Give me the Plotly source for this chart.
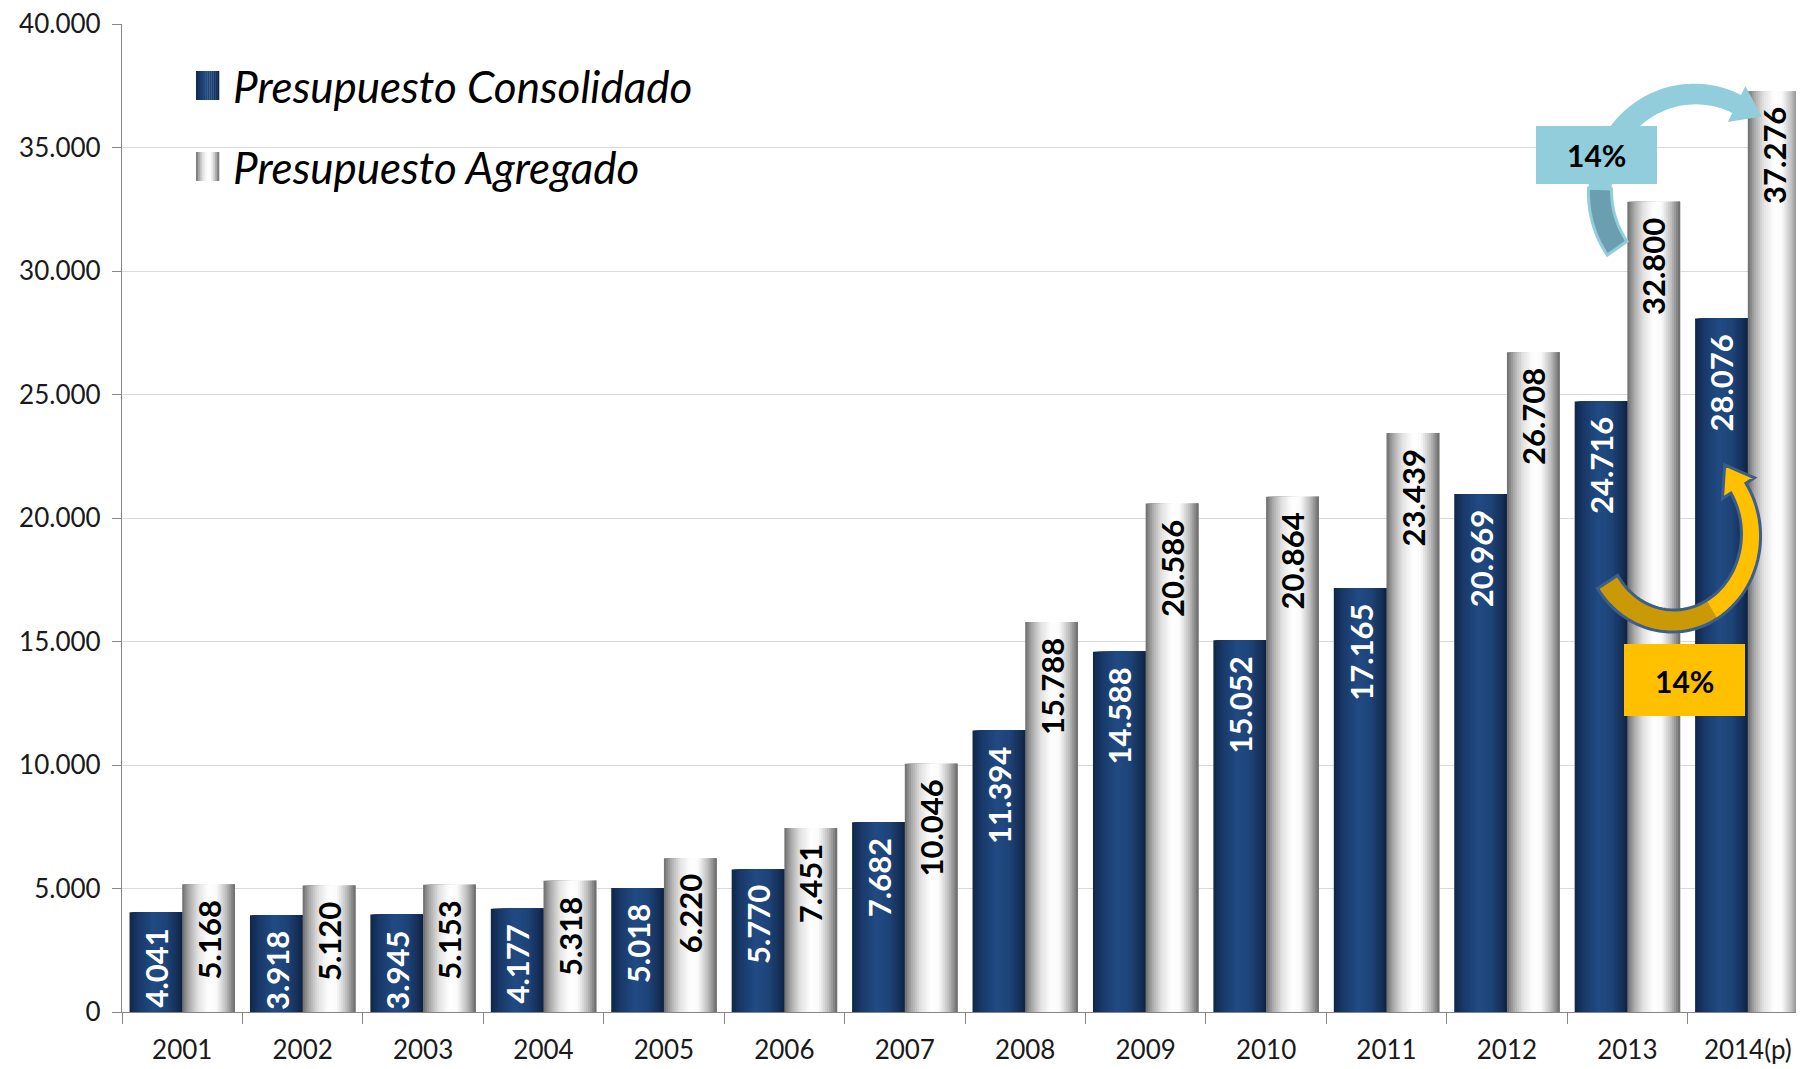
import math
import plotly.graph_objects as go

# ---------------- data ----------------
categories = ["2001", "2002", "2003", "2004", "2005", "2006", "2007",
              "2008", "2009", "2010", "2011", "2012", "2013", "2014(p)"]
consolidado = [4041, 3918, 3945, 4177, 5018, 5770, 7682,
               11394, 14588, 15052, 17165, 20969, 24716, 28076]
agregado = [5168, 5120, 5153, 5318, 6220, 7451, 10046,
            15788, 20586, 20864, 23439, 26708, 32800, 37276]
series_names = ["Presupuesto Consolidado", "Presupuesto Agregado"]
growth_labels = ["14%", "14%"]
y_ticks = [0, 5000, 10000, 15000, 20000, 25000, 30000, 35000, 40000]

# ---------------- layout constants ----------------
W, H = 1804, 1069
OFF = 8                      # page body margin
PLOT_L, PLOT_T, PW, PH = 122, 24, 1686, 988
ML, MT = PLOT_L - OFF, PLOT_T - OFF
MR, MB = W - ML - PW, H - MT - PH
FONT = "Lato"
BAR_W = 0.4375

BLUE_STOPS = [(0.0, (0x10, 0x26, 0x47)), (0.15, (0x18, 0x37, 0x66)),
              (0.45, (0x21, 0x4b, 0x83)), (0.7, (0x1d, 0x44, 0x78)),
              (0.88, (0x16, 0x32, 0x5c)), (1.0, (0x0f, 0x23, 0x42))]
GRAY_STOPS = [(0.0, (0x6c, 0x6c, 0x6c)), (0.12, (0xa6, 0xa6, 0xa6)),
              (0.3, (0xe2, 0xe2, 0xe2)), (0.5, (0xff, 0xff, 0xff)),
              (0.65, (0xfa, 0xfa, 0xfa)), (0.82, (0xc2, 0xc2, 0xc2)),
              (0.93, (0x8e, 0x8e, 0x8e)), (1.0, (0x68, 0x68, 0x68))]


def grad(stops, t):
    for (t0, c0), (t1, c1) in zip(stops[:-1], stops[1:]):
        if t0 <= t <= t1:
            f = (t - t0) / (t1 - t0) if t1 > t0 else 0
            c = [round(a + (b - a) * f) for a, b in zip(c0, c1)]
            return "rgb(%d,%d,%d)" % tuple(c)
    return "rgb(%d,%d,%d)" % stops[-1][1]


def px(x, y):
    """page pixel -> paper coords"""
    return (x - PLOT_L) / PW, (PLOT_T + PH - y) / PH


fig = go.Figure()

# ---------------- gradient bars (slices) ----------------
N = 26
for values, stops, start in [(consolidado, BLUE_STOPS, -BAR_W),
                             (agregado, GRAY_STOPS, 0.0)]:
    dw = BAR_W / N
    for i in range(N):
        fig.add_trace(go.Bar(
            x=categories, y=values,
            offset=start + i * dw, width=BAR_W - i * dw,
            marker=dict(color=grad(stops, (i + 0.5) / N), line=dict(width=0)),
            showlegend=False, hoverinfo="skip"))

annotations = []
shapes = []

# ---------------- data labels ----------------
for values, color, shift in [(consolidado, "white", -BAR_W / 2),
                             (agregado, "black", BAR_W / 2)]:
    for idx, v in enumerate(values):
        annotations.append(dict(
            x=idx + shift, y=v, xref="x", yref="y",
            yshift=-14, yanchor="top", xanchor="center", textangle=-90,
            text=f"{v:,}".replace(",", "."), showarrow=False,
            font=dict(family=FONT, size=31, color=color, weight="bold")))

# ---------------- curved arrows ----------------
def band(cx, cy, rx, ry, th0, th1, hw0, hw1, head=None, n=60):
    outer, inner = [], []
    for k in range(n + 1):
        t = th0 + (th1 - th0) * k / n
        hw = hw0 + (hw1 - hw0) * k / n
        r = math.radians(t)
        c, s = math.cos(r), math.sin(r)
        outer.append((cx + (rx + hw) * c, cy - (ry + hw) * s))
        inner.append((cx + (rx - hw) * c, cy - (ry - hw) * s))
    pts = list(outer)
    if head:
        hl, hwid = head
        r = math.radians(th1)
        c, s = math.cos(r), math.sin(r)
        bx, by = cx + rx * c, cy - ry * s
        sign = 1 if th1 > th0 else -1
        tx, ty = -rx * s * sign, -ry * c * sign
        L = math.hypot(tx, ty)
        tx, ty = tx / L, ty / L
        nx, ny = c, -s
        pts += [(bx + hwid * nx, by + hwid * ny), (bx + hl * tx, by + hl * ty),
                (bx - hwid * nx, by - hwid * ny)]
    pts += inner[::-1]
    parts = []
    for j, (x, y) in enumerate(pts):
        u, v = px(x, y)
        parts.append(("M" if j == 0 else "L") + f"{u:.5f},{v:.5f}")
    return " ".join(parts) + " Z"


# cyan arrow (2013 -> 2014 agregado)
CYAN, CYAN_D = "#92cddc", "#6b9fb0"
shapes.append(dict(type="path", xref="paper", yref="paper",
                   path=band(1695, 192, 95, 98, 215, 64, 12, 10, head=(28, 20)),
                   fillcolor=CYAN, line=dict(width=0)))
shapes.append(dict(type="path", xref="paper", yref="paper",
                   path=band(1695, 192, 95, 98, 215, 178, 12, 11.5),
                   fillcolor=CYAN_D, line=dict(color=CYAN, width=3)))
x0, y0 = px(1536, 126)
x1, y1 = px(1657, 184)
shapes.append(dict(type="rect", xref="paper", yref="paper", x0=x0, y0=y0, x1=x1, y1=y1,
                   fillcolor=CYAN, line=dict(width=0)))
cx_, cy_ = px(1596.5, 155)
annotations.append(dict(x=cx_, y=cy_, xref="paper", yref="paper", text=growth_labels[0],
                        showarrow=False, xanchor="center", yanchor="middle",
                        font=dict(family=FONT, size=30, color="black", weight="bold")))

# gold arrow (2013 -> 2014 consolidado)
GOLD, GOLD_D, OUT = "#ffc000", "#c99a06", "#3b5e8c"
shapes.append(dict(type="path", xref="paper", yref="paper",
                   path=band(1673, 535, 78, 86, 213, 393, 12, 9, head=(27, 19)),
                   fillcolor=GOLD, line=dict(width=0)))
shapes.append(dict(type="path", xref="paper", yref="paper",
                   path=band(1673, 535, 78, 86, 213, 300, 12, 10.5),
                   fillcolor=GOLD_D, line=dict(width=0)))
shapes.append(dict(type="path", xref="paper", yref="paper",
                   path=band(1673, 535, 78, 86, 213, 393, 12, 9, head=(27, 19)),
                   fillcolor="rgba(0,0,0,0)", line=dict(color=OUT, width=3)))
x0, y0 = px(1624, 644)
x1, y1 = px(1745, 716)
shapes.append(dict(type="rect", xref="paper", yref="paper", x0=x0, y0=y0, x1=x1, y1=y1,
                   fillcolor=GOLD, line=dict(width=0)))
cx_, cy_ = px(1684.5, 681)
annotations.append(dict(x=cx_, y=cy_, xref="paper", yref="paper", text=growth_labels[1],
                        showarrow=False, xanchor="center", yanchor="middle",
                        font=dict(family=FONT, size=30, color="black", weight="bold")))

# ---------------- manual legend ----------------
for name, stops, yc in [(series_names[0], BLUE_STOPS, 85.5), (series_names[1], GRAY_STOPS, 166.5)]:
    sx0, sx1 = 196, 219
    ns = 12
    for i in range(ns):
        a = sx0 + (sx1 - sx0) * i / ns
        b = sx0 + (sx1 - sx0) * (i + 1) / ns + 0.3
        u0, v0 = px(a, yc - 14.5)
        u1, v1 = px(b, yc + 14.5)
        shapes.append(dict(type="rect", xref="paper", yref="paper", x0=u0, x1=u1, y0=v1, y1=v0,
                           fillcolor=grad(stops, (i + 0.5) / ns), line=dict(width=0)))
    u, v = px(231, yc)
    annotations.append(dict(x=u, y=v, xref="paper", yref="paper", text=name, showarrow=False,
                            xanchor="left", yanchor="middle",
                            font=dict(family=FONT, size=44, color="black", style="italic")))

fig.update_layout(
    width=W, height=H,
    margin=dict(l=ML, r=MR, t=MT, b=MB, autoexpand=False),
    paper_bgcolor="white", plot_bgcolor="white",
    barmode="overlay",
    separators=",.",
    showlegend=False,
    xaxis=dict(type="category", categoryorder="array", categoryarray=categories,
               tickson="boundaries", ticks="outside", ticklen=11, tickcolor="#868686",
               tickwidth=1.3, showline=True, linecolor="#868686", linewidth=1.3,
               showgrid=False, range=[-0.5, len(categories) - 0.5], automargin=False,
               ticklabelstandoff=15, ticklabeloverflow="allow",
               tickfont=dict(family=FONT, size=26, color="#1a1a1a")),
    yaxis=dict(range=[0, 40000], tickvals=y_ticks,
               ticktext=[f"{t:,}".replace(",", ".") for t in y_ticks],
               ticks="outside", ticklen=9, tickcolor="#868686", tickwidth=1.3,
               showline=True, linecolor="#868686", linewidth=1.3, automargin=False,
               showgrid=True, gridcolor="#d9d9d9", gridwidth=1.3, zeroline=False,
               ticklabelstandoff=6, ticklabeloverflow="allow",
               tickfont=dict(family=FONT, size=26, color="#1a1a1a")),
    shapes=shapes,
    annotations=annotations,
)

fig.write_html("out.html")
